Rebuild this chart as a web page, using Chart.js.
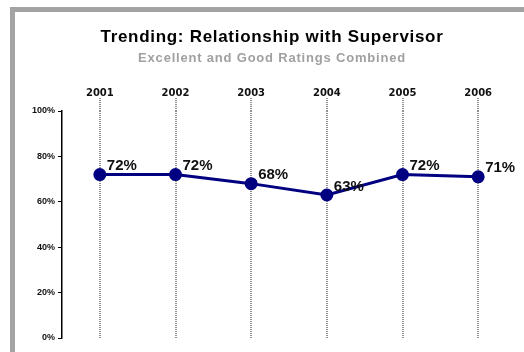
<!DOCTYPE html>
<html>
<head>
<meta charset="utf-8">
<script src="https://cdn.jsdelivr.net/npm/chart.js@4"></script>
<style>
    html, body { margin: 0; padding: 0; background: #fff; }
    #wrap { position: relative; width: 524px; height: 352px; overflow: hidden; }
    #frame { position: absolute; left: 10px; top: 7px; right: 0; bottom: 0; border-top: 5px solid #a3a3a3; border-left: 5px solid #a3a3a3; }
    canvas { position: absolute; left: 0; top: 0; }
</style>
</head>
<body>
<div id="wrap">
    <div id="frame"></div>
    <canvas id="chart" width="524" height="352"></canvas>
</div>
<script>
// Data
const years = ['2001', '2002', '2003', '2004', '2005', '2006'];
const ratings = [72, 72, 68, 63, 72, 71];
const yTicks = [0, 20, 40, 60, 80, 100];

const titleText = 'Trending: Relationship with Supervisor';
const subtitleText = 'Excellent and Good Ratings Combined';

const navy = '#000080';

// title + subtitle with letter spacing (Chart.js title has none)
const headings = {
    id: 'headings',
    afterDraw(chart) {
        const ctx = chart.ctx;
        ctx.save();
        ctx.textAlign = 'center';
        ctx.textBaseline = 'alphabetic';
        ctx.letterSpacing = '0.7px';
        ctx.fillStyle = '#000';
        ctx.font = 'bold 17px "Liberation Sans", Arial, sans-serif';
        ctx.fillText(titleText, 272, 42);
        ctx.letterSpacing = '0.8px';
        ctx.fillStyle = '#a0a0a0';
        ctx.font = 'bold 13px "Liberation Sans", Arial, sans-serif';
        ctx.fillText(subtitleText, 272, 62);
        ctx.restore();
    }
};

// labels right of each point
const valueLabels = {
    id: 'valueLabels',
    afterDatasetsDraw(chart) {
        const ctx = chart.ctx;
        const meta = chart.getDatasetMeta(0);
        ctx.save();
        ctx.font = 'bold 15px "Liberation Sans", Arial, sans-serif';
        ctx.fillStyle = '#111';
        ctx.textAlign = 'left';
        ctx.textBaseline = 'bottom';
        meta.data.forEach((pt, i) => {
            ctx.fillText(ratings[i] + '%', pt.x + 7, pt.y - 1);
        });
        ctx.restore();
    }
};

new Chart(document.getElementById('chart'), {
    type: 'line',
    data: {
        labels: years,
        datasets: [{
            data: ratings,
            borderColor: navy,
            borderWidth: 3,
            backgroundColor: navy,
            pointBackgroundColor: navy,
            pointBorderColor: navy,
            pointRadius: 5,
            tension: 0
        }]
    },
    options: {
        responsive: false,
        animation: false,
        layout: { padding: { top: 66, left: 0, right: 5, bottom: 14 } },
        plugins: {
            legend: { display: false },
            tooltip: { enabled: false }
        },
        scales: {
            x: {
                position: 'top',
                offset: true,
                afterFit: (s) => { s.height = 45; },
                grid: {
                    offset: false,
                    color: '#8f8f8f',
                    lineWidth: 2,
                    tickLength: 13,
                    tickBorderDash: [1, 1]
                },
                border: { display: false, dash: [1, 1] },
                ticks: {
                    color: '#111',
                    padding: -1,
                    font: { family: '"DejaVu Sans", Verdana, sans-serif', size: 10, weight: 'bold' }
                }
            },
            y: {
                min: 0,
                max: 100,
                afterFit: (s) => { s.width = 62; },
                afterBuildTicks: (s) => { s.ticks = yTicks.map(v => ({ value: v })); },
                grid: {
                    drawOnChartArea: false,
                    color: '#000',
                    tickLength: 4
                },
                border: { display: true, color: '#000', width: 1.5 },
                ticks: {
                    color: '#111',
                    padding: 3,
                    font: { family: '"Liberation Sans", Arial, sans-serif', size: 9, weight: 'bold' },
                    callback: (v) => v + '%'
                }
            }
        }
    },
    plugins: [valueLabels, headings]
});
</script>
</body>
</html>
